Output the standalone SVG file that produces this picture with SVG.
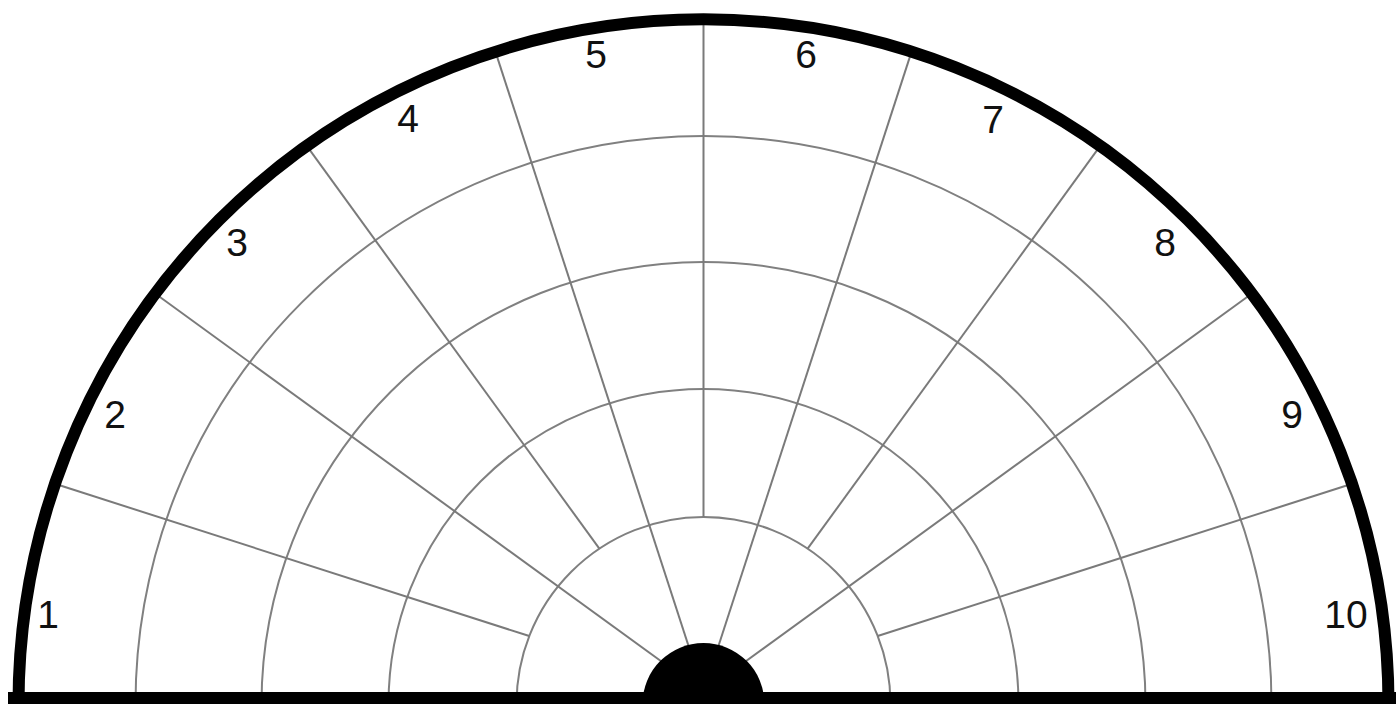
<svg xmlns="http://www.w3.org/2000/svg" width="1396" height="704" viewBox="0 0 1396 704">
  <style>
    .arc { fill: none; stroke: #808080; stroke-width: 2; }
    .spoke { fill: none; stroke: #7a7a7a; stroke-width: 2; }
    .outer { fill: none; stroke: #000; stroke-width: 12; }
    .lbl { font-family: "Liberation Sans", Arial, sans-serif; font-size: 39px; fill: #111; text-anchor: middle; }
  </style>
  <rect width="1396" height="704" fill="#fff"/>
  <g id="rings">
    <path class="arc" d="M516.5 704 A187 187 0 0 1 890.5 704"/>
    <path class="arc" d="M388.5 704 A315 315 0 0 1 1018.5 704"/>
    <path class="arc" d="M261.5 704 A442 442 0 0 1 1145.5 704"/>
    <path class="arc" d="M135.5 704 A568 568 0 0 1 1271.5 704"/>
  </g>
  <g id="connectors">
    <line class="spoke" x1="529.28" y1="636.06" x2="54.88" y2="483.75"/>
    <line class="spoke" x1="703.5" y1="692" x2="155.08" y2="293.55"/>
    <line class="spoke" x1="599.37" y1="548.67" x2="306.6" y2="145.71"/>
    <line class="spoke" x1="703.5" y1="692" x2="495.35" y2="51.39"/>
    <line class="spoke" x1="703.5" y1="517" x2="703.5" y2="19"/>
    <line class="spoke" x1="703.5" y1="692" x2="911.65" y2="51.39"/>
    <line class="spoke" x1="807.63" y1="548.67" x2="1100.4" y2="145.71"/>
    <line class="spoke" x1="703.5" y1="692" x2="1251.92" y2="293.55"/>
    <line class="spoke" x1="877.72" y1="636.06" x2="1352.12" y2="483.75"/>
  </g>
  <g id="rim">
    <path class="outer" d="M18.5 704 A685 685 0 0 1 1388.5 704"/>
  </g>
  <g id="base">
    <rect x="8" y="692" width="1388" height="12" fill="#000"/>
  </g>
  <g id="hub">
    <circle cx="703.5" cy="704" r="61" fill="#000"/>
  </g>
  <g id="labels">
    <text class="lbl" x="48" y="628">1</text>
    <text class="lbl" x="115" y="428">2</text>
    <text class="lbl" x="237" y="256">3</text>
    <text class="lbl" x="408" y="132">4</text>
    <text class="lbl" x="596" y="68">5</text>
    <text class="lbl" x="806" y="68">6</text>
    <text class="lbl" x="993" y="133">7</text>
    <text class="lbl" x="1165" y="256">8</text>
    <text class="lbl" x="1292" y="428">9</text>
    <text class="lbl" x="1346" y="628">10</text>
  </g>
</svg>
